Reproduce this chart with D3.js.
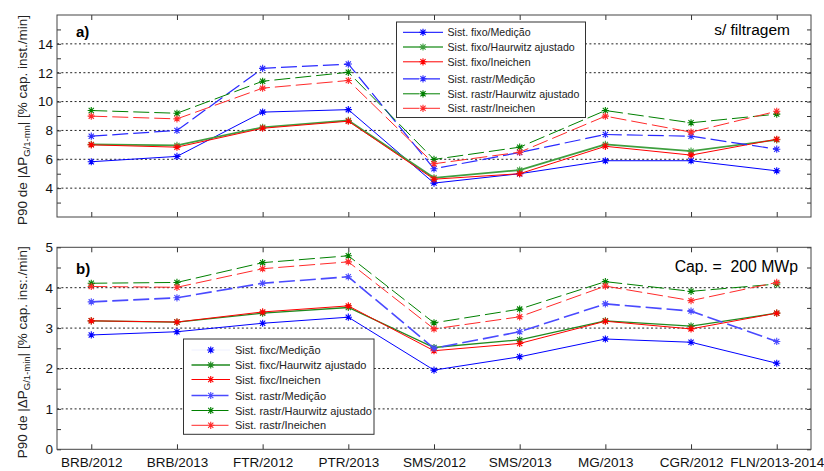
<!DOCTYPE html>
<html>
<head>
<meta charset="utf-8">
<script src="https://cdn.jsdelivr.net/npm/d3@7"></script>
<style>
  html, body { margin: 0; padding: 0; background: #fff; }
  svg { display: block; font-family: "Liberation Sans", Arial, sans-serif; }
</style>
</head>
<body>
<svg id="chart" width="824" height="471"></svg>
<script>
// Sites / years on the horizontal axis
const categories = ["BRB/2012", "BRB/2013", "FTR/2012", "PTR/2013", "SMS/2012", "SMS/2013", "MG/2013", "CGR/2012", "FLN/2013-2014"];

// Panel a) – P90 of |ΔP| without filtering [% inst. cap./min]
const aFixoMedicao   = [5.83, 6.20, 9.27, 9.44, 4.35, 5.00, 5.90, 5.90, 5.20];
const aFixoHaurwitz  = [7.03, 6.96, 8.22, 8.69, 4.72, 5.25, 7.03, 6.56, 7.35];
const aFixoIneichen  = [7.00, 6.84, 8.15, 8.64, 4.62, 5.00, 6.90, 6.29, 7.39];
const aRastrMedicao  = [7.60, 8.00, 12.30, 12.60, 5.34, 6.47, 7.72, 7.60, 6.70];
const aRastrHaurwitz = [9.38, 9.19, 11.41, 12.03, 5.99, 6.84, 9.38, 8.53, 9.13];
const aRastrIneichen = [8.99, 8.80, 10.93, 11.46, 5.69, 6.49, 8.99, 7.88, 9.33];

// Panel b) – P90 of |ΔP| for a 200 MWp plant [% inst. cap./min]
const bFixoMedicao   = [2.83, 2.91, 3.12, 3.27, 1.96, 2.29, 2.73, 2.65, 2.13];
const bFixoHaurwitz  = [3.18, 3.15, 3.37, 3.51, 2.52, 2.71, 3.18, 3.05, 3.37];
const bFixoIneichen  = [3.18, 3.15, 3.40, 3.55, 2.44, 2.62, 3.17, 2.98, 3.37];
const bRastrMedicao  = [3.65, 3.75, 4.11, 4.27, 2.50, 2.91, 3.60, 3.42, 2.67];
const bRastrHaurwitz = [4.11, 4.13, 4.62, 4.79, 3.13, 3.47, 4.15, 3.91, 4.09];
const bRastrIneichen = [4.03, 4.01, 4.47, 4.64, 2.98, 3.28, 4.04, 3.68, 4.13];

// Legend texts
const legendA = ["Sist. fixo/Medição", "Sist. fixo/Haurwitz ajustado", "Sist. fixo/Ineichen",
                 "Sist. rastr/Medição", "Sist. rastr/Haurwitz ajustado", "Sist. rastr/Ineichen"];
const legendB = ["Sist. fixc/Medição", "Sist. fixc/Haurwitz ajustado", "Sist. fixc/Ineichen",
                 "Sist. rastr/Medição", "Sist. rastr/Haurwitz ajustado", "Sist. rastr/Ineichen"];

// Axis ticks
const aMajorTicks = [4, 6, 8, 10, 12, 14];
const aMinorTicks = [3, 5, 7, 9, 11, 13, 15];
const bMajorTicks = [0, 1, 2, 3, 4, 5];
const bMinorTicks = [0.5, 1.5, 2.5, 3.5, 4.5];

const svg = d3.select("#chart");
const X0 = 57, X1 = 811;

const x = d3.scalePoint().domain(categories).range([X0, X1]).padding(0.4);

const DASH = "16,5";

function styles(panel) {
  return [
    { color: "#0000ff", width: 1.0, dash: null, legendColor: panel === "a" ? "#0000ff" : "#eef0ff" },
    { color: panel === "a" ? "#3f9f3f" : "#1f8a1f", width: panel === "a" ? 1.7 : 1.3, dash: null },
    { color: "#ff0000", width: 1.0, dash: null },
    { color: panel === "a" ? "#2a2aff" : "#4a4aff", width: panel === "a" ? 1.2 : 1.6, dash: DASH },
    { color: "#008000", width: 1.0, dash: DASH },
    { color: "#ff2a2a", width: 1.0, dash: DASH }
  ];
}

// Asterisk marker (plus + cross)
function starPath(cx, cy) {
  const r = 3.6, d = 2.6;
  return `M${cx - r},${cy}L${cx + r},${cy}M${cx},${cy - r}L${cx},${cy + r}` +
         `M${cx - d},${cy - d}L${cx + d},${cy + d}M${cx - d},${cy + d}L${cx + d},${cy - d}`;
}

function drawPanel(cfg) {
  const y = d3.scaleLinear().domain(cfg.domain).range([cfg.bottom, cfg.top]);
  const g = svg.append("g");

  // dotted grid
  g.append("g").selectAll("line").data(cfg.grid).join("line")
    .attr("x1", X0).attr("x2", X1)
    .attr("y1", d => y(d)).attr("y2", d => y(d))
    .attr("stroke", "#222").attr("stroke-width", 1)
    .attr("stroke-dasharray", "2,2.4");

  // left axis with labels (ticks pointing inwards)
  const left = g.append("g").attr("transform", `translate(${X0},0)`)
    .call(d3.axisLeft(y).tickValues(cfg.major).tickSize(-4).tickPadding(4).tickFormat(d3.format("d")));
  g.append("g").attr("transform", `translate(${X0},0)`)
    .call(d3.axisLeft(y).tickValues(cfg.minor).tickSize(-4).tickFormat(""));
  g.append("g").attr("transform", `translate(${X1},0)`)
    .call(d3.axisRight(y).tickValues(cfg.major.concat(cfg.minor)).tickSize(-4).tickFormat(""));

  const bottomAxis = g.append("g").attr("transform", `translate(0,${cfg.bottom})`)
    .call(d3.axisBottom(x).tickSize(-5).tickPadding(8).tickFormat(cfg.xLabels ? null : ""));
  g.append("g").attr("transform", `translate(0,${cfg.top})`)
    .call(d3.axisTop(x).tickSize(-5).tickFormat(""));

  g.selectAll(".domain").remove();
  g.selectAll(".tick line").attr("stroke", "#333");
  left.selectAll("text").attr("font-size", "13.5px").attr("fill", "#111")
    .attr("font-family", "'Liberation Sans', Arial, sans-serif");
  bottomAxis.selectAll("text").attr("font-size", "13.5px").attr("fill", "#111")
    .attr("font-family", "'Liberation Sans', Arial, sans-serif")
    .attr("dy", null).attr("y", 18);

  // frame
  g.append("rect").attr("x", X0).attr("y", cfg.top)
    .attr("width", X1 - X0).attr("height", cfg.bottom - cfg.top)
    .attr("fill", "none").attr("stroke", "#444").attr("stroke-width", 1);

  const st = styles(cfg.name);
  const line = d3.line().x((d, i) => x(categories[i])).y(d => y(d));

  cfg.series.forEach((vals, k) => {
    const s = st[k];
    g.append("path").datum(vals).attr("d", line)
      .attr("fill", "none").attr("stroke", s.color).attr("stroke-width", s.width)
      .attr("stroke-dasharray", s.dash);
    g.append("g").selectAll("path").data(vals).join("path")
      .attr("d", (d, i) => starPath(x(categories[i]), y(d)))
      .attr("stroke", s.color).attr("stroke-width", 1.1).attr("fill", "none");
  });

  // legend
  const L = cfg.legend;
  const lg = g.append("g");
  lg.append("rect").attr("x", L.x).attr("y", L.y).attr("width", L.w).attr("height", L.h)
    .attr("fill", "#fff").attr("stroke", "#333").attr("stroke-width", 1);
  cfg.labels.forEach((t, k) => {
    const s = st[k];
    const yy = L.rows[k];
    lg.append("line").attr("x1", L.l0).attr("x2", L.l1).attr("y1", yy).attr("y2", yy)
      .attr("stroke", s.legendColor || s.color).attr("stroke-width", s.width)
      .attr("stroke-dasharray", s.dash);
    lg.append("path").attr("d", starPath((L.l0 + L.l1) / 2, yy))
      .attr("stroke", s.color).attr("stroke-width", 1.1).attr("fill", "none");
    lg.append("text").attr("x", L.tx).attr("y", yy + 4).attr("font-size", L.fs)
      .attr("fill", "#222").text(t);
  });

  // panel tag and annotation
  g.append("text").attr("x", 76).attr("y", cfg.tagY).attr("font-size", "15px")
    .attr("font-weight", "bold").attr("fill", "#000").text(cfg.tag);
  g.append("text").attr("x", cfg.noteX).attr("y", cfg.noteY).attr("font-size", cfg.noteFs)
    .attr("text-anchor", "end").attr("fill", "#000")
    .style("white-space", "pre").text(cfg.note);

  // y label
  const yl = g.append("text")
    .attr("transform", `translate(26.5,${(cfg.top + cfg.bottom) / 2 + 4}) rotate(-90)`)
    .attr("text-anchor", "middle").attr("font-size", "13.5px").attr("fill", "#222");
  yl.append("tspan").text("P90 de |ΔP");
  yl.append("tspan").attr("font-size", "9.5px").attr("dy", 3).text(cfg.sub);
  yl.append("tspan").attr("dy", -3).text("| [% cap. " + cfg.unit + "/min]");
}

drawPanel({
  name: "a", top: 15, bottom: 217, domain: [2, 16],
  grid: aMajorTicks, major: aMajorTicks, minor: aMinorTicks, xLabels: false,
  series: [aFixoMedicao, aFixoHaurwitz, aFixoIneichen, aRastrMedicao, aRastrHaurwitz, aRastrIneichen],
  labels: legendA,
  legend: { x: 396.5, y: 22, w: 189, h: 95.5, l0: 403, l1: 443, tx: 447.5, fs: "10.6px",
            rows: [32.3, 47, 61.8, 78.8, 93.8, 108.3] },
  tag: "a)", tagY: 37,
  note: "s/ filtragem", noteX: 790, noteY: 34.5, noteFs: "15.5px",
  sub: "G/1-mn", unit: "inst."
});

drawPanel({
  name: "b", top: 247.3, bottom: 449.3, domain: [0, 5],
  grid: [1, 2, 3, 4], major: bMajorTicks, minor: bMinorTicks, xLabels: true,
  series: [bFixoMedicao, bFixoHaurwitz, bFixoIneichen, bRastrMedicao, bRastrHaurwitz, bRastrIneichen],
  labels: legendB,
  legend: { x: 183.5, y: 339, w: 190.5, h: 95.3, l0: 191.5, l1: 230, tx: 235, fs: "11px",
            rows: [350, 365, 379.5, 395.5, 410.5, 425.3] },
  tag: "b)", tagY: 274,
  note: "Cap. =  200 MWp", noteX: 798, noteY: 272, noteFs: "15.8px",
  sub: "G/1-min", unit: "ins:."
});
</script>
</body>
</html>
